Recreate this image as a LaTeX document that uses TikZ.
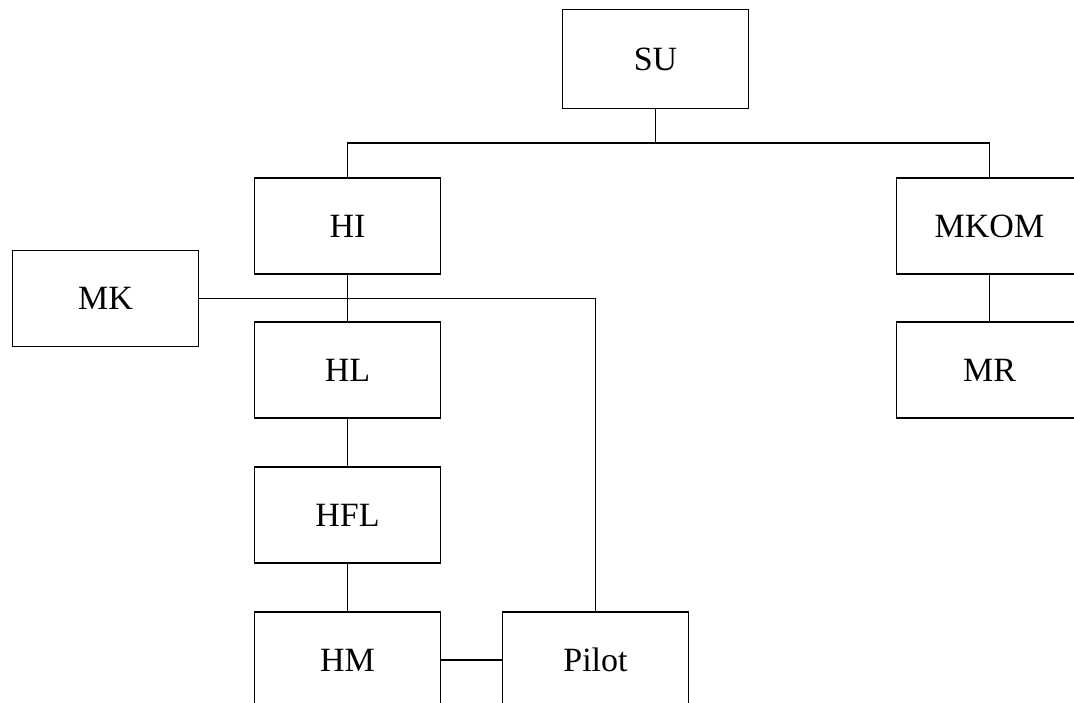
\documentclass[tikz,border=0pt]{standalone}
\usepackage{fontspec}
\setmainfont{Liberation Serif}
\begin{document}
\begin{tikzpicture}[x=1pt,y=-1pt,
  box/.style={draw, line width=1.9pt, minimum width=186pt, minimum height=96pt, inner sep=0pt, font=\fontsize{34}{39}\selectfont},
  link/.style={line width=1.9pt}]
\useasboundingbox (0,0) rectangle (1074,703);
\clip (0,0) rectangle (1074,703);
\node[box, minimum height=99pt] (SU) at (655.5,59) {SU};
\node[box] (HI) at (347.5,226) {HI};
\node[box] (MKOM) at (989.5,226) {MKOM};
\node[box] (MK) at (105.5,298.5) {MK};
\node[box] (HL) at (347.5,370) {HL};
\node[box] (MR) at (989.5,370) {MR};
\node[box] (HFL) at (347.5,515) {HFL};
\node[box] (HM) at (347.5,660) {HM};
\node[box] (Pilot) at (595.5,660) {Pilot};
\coordinate (bus) at (SU.south |- 0,143);
\draw[link] (SU.south) -- (bus);
\draw[link] (HI.north) |- (bus) -| (MKOM.north);
\draw[link] (MK.east) -| (Pilot.north);
\draw[link] (HI) -- (HL);
\draw[link] (HL) -- (HFL);
\draw[link] (HFL) -- (HM);
\draw[link] (HM) -- (Pilot);
\draw[link] (MKOM) -- (MR);
\end{tikzpicture}
\end{document}
